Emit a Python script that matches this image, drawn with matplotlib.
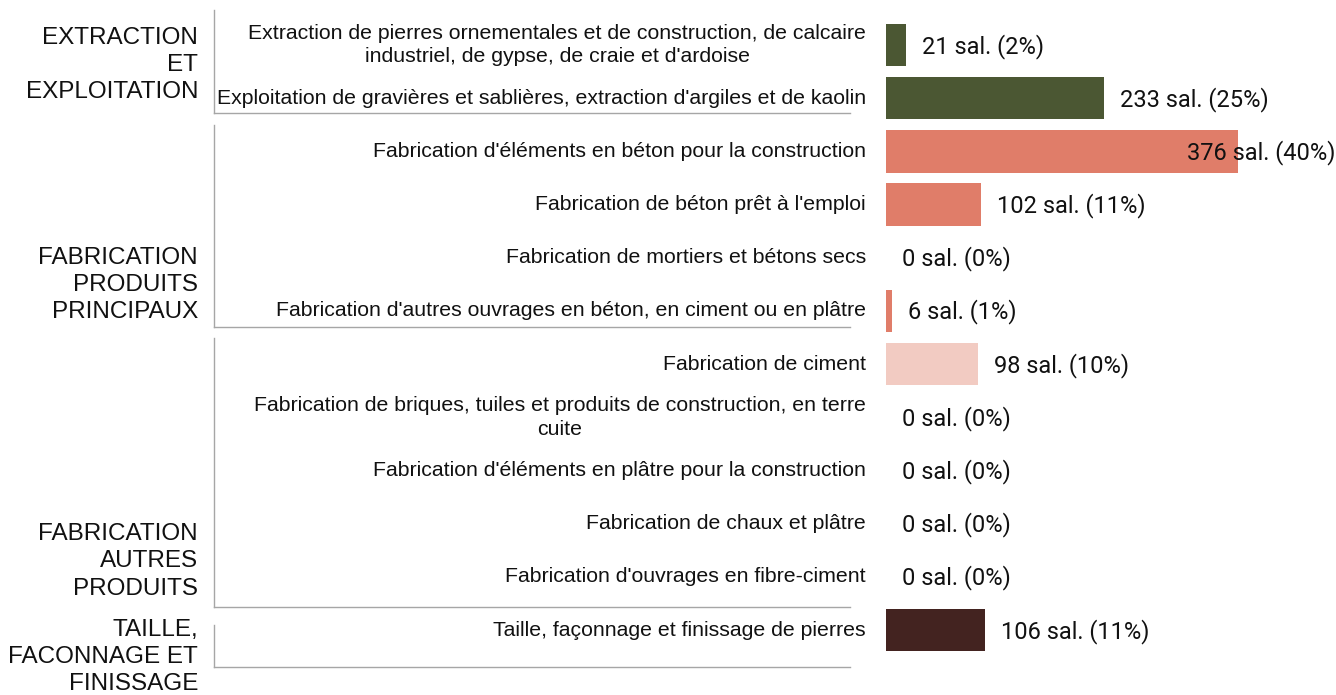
import matplotlib
matplotlib.use("Agg")
import matplotlib.pyplot as plt
from matplotlib.lines import Line2D
import matplotlib.transforms as mtransforms

# ---------------- data ----------------
categories = [
    "Extraction de pierres ornementales et de construction, de calcaire\nindustriel, de gypse, de craie et d'ardoise",
    "Exploitation de gravières et sablières, extraction d'argiles et de kaolin",
    "Fabrication d'éléments en béton pour la construction",
    "Fabrication de béton prêt à l'emploi",
    "Fabrication de mortiers et bétons secs",
    "Fabrication d'autres ouvrages en béton, en ciment ou en plâtre",
    "Fabrication de ciment",
    "Fabrication de briques, tuiles et produits de construction, en terre\ncuite",
    "Fabrication d'éléments en plâtre pour la construction",
    "Fabrication de chaux et plâtre",
    "Fabrication d'ouvrages en fibre-ciment",
    "Taille, façonnage et finissage de pierres",
]
salaries = [21, 233, 376, 102, 0, 6, 98, 0, 0, 0, 0, 106]
percents = [2, 25, 40, 11, 0, 1, 10, 0, 0, 0, 0, 11]
bar_colors = ["#4B5733", "#4B5733", "#E07D69", "#E07D69", "#E07D69", "#E07D69",
              "#F2CBC2", "#F2CBC2", "#F2CBC2", "#F2CBC2", "#F2CBC2", "#432320"]

groups = ["EXTRACTION\nET\nEXPLOITATION",
          "FABRICATION\nPRODUITS\nPRINCIPAUX",
          "FABRICATION\nAUTRES\nPRODUITS",
          "TAILLE,\nFACONNAGE ET\nFINISSAGE"]

# ---------------- layout ----------------
W, H = 1336, 695
fig = plt.figure(figsize=(W / 100, H / 100), dpi=100)
fig.patch.set_facecolor("white")

def fx(px):
    return px / W

def fy(py):
    return 1 - py / H

ax_left, ax_right, ax_top, ax_bot = 886, 1336, 18.4, 656.6
ax = fig.add_axes([fx(ax_left), fy(ax_bot), fx(ax_right - ax_left), (ax_bot - ax_top) / H])
ax.set_xlim(0, (ax_right - ax_left) / 0.936)
ax.set_ylim(len(categories) - 0.5, -0.5)
ax.axis("off")

ypos = list(range(len(categories)))
ax.barh(ypos, salaries, height=0.8, color=bar_colors, edgecolor="none")

val_family = ["Roboto", "DejaVu Sans"]
val_size = 17
for i, (v, p) in enumerate(zip(salaries, percents)):
    txt = f"{v} sal. ({p}%)"
    if v == max(salaries):
        ax.text(0.998, i + 0.02, txt, transform=mtransforms.blended_transform_factory(ax.transAxes, ax.transData),
                ha="right", va="center", color="#111111", family=val_family, fontsize=val_size)
    else:
        ax.annotate(txt, xy=(v, i + 0.02), xytext=(16, 0), textcoords="offset pixels",
                    ha="left", va="center", color="#111111", family=val_family, fontsize=val_size)

# category labels
cat_tr = mtransforms.blended_transform_factory(fig.transFigure, ax.transData)
for i, c in enumerate(categories):
    fig.text(fx(866), i, c, transform=cat_tr, ha="right", va="center",
             multialignment="center", fontsize=15.3, linespacing=1.3,
             family=["Liberation Sans", "DejaVu Sans"], color="#111111")

# group labels (row-unit positions of the middle line)
group_label_rows = [0.38, 4.51, 9.71, 11.51]
for g, r in zip(groups, group_label_rows):
    fig.text(fx(198), r, g, transform=cat_tr, ha="right", va="center",
             multialignment="right", fontsize=17.5, linespacing=1.3,
             family=["Liberation Sans", "DejaVu Sans"], color="#111111")

# brackets (row-unit spans)
bracket_spans = [(-0.66, 1.28), (1.50, 5.30), (5.51, 10.57), (10.91, 11.70)]
line_color = "#a6a6a6"
for top, bot in bracket_spans:
    fig.add_artist(Line2D([fx(214), fx(214)], [top, bot], transform=cat_tr,
                          color=line_color, lw=1.0))
    fig.add_artist(Line2D([fx(214), fx(850)], [bot, bot], transform=cat_tr,
                          color=line_color, lw=1.0))

fig.savefig("out.png", dpi=100, facecolor="white")
